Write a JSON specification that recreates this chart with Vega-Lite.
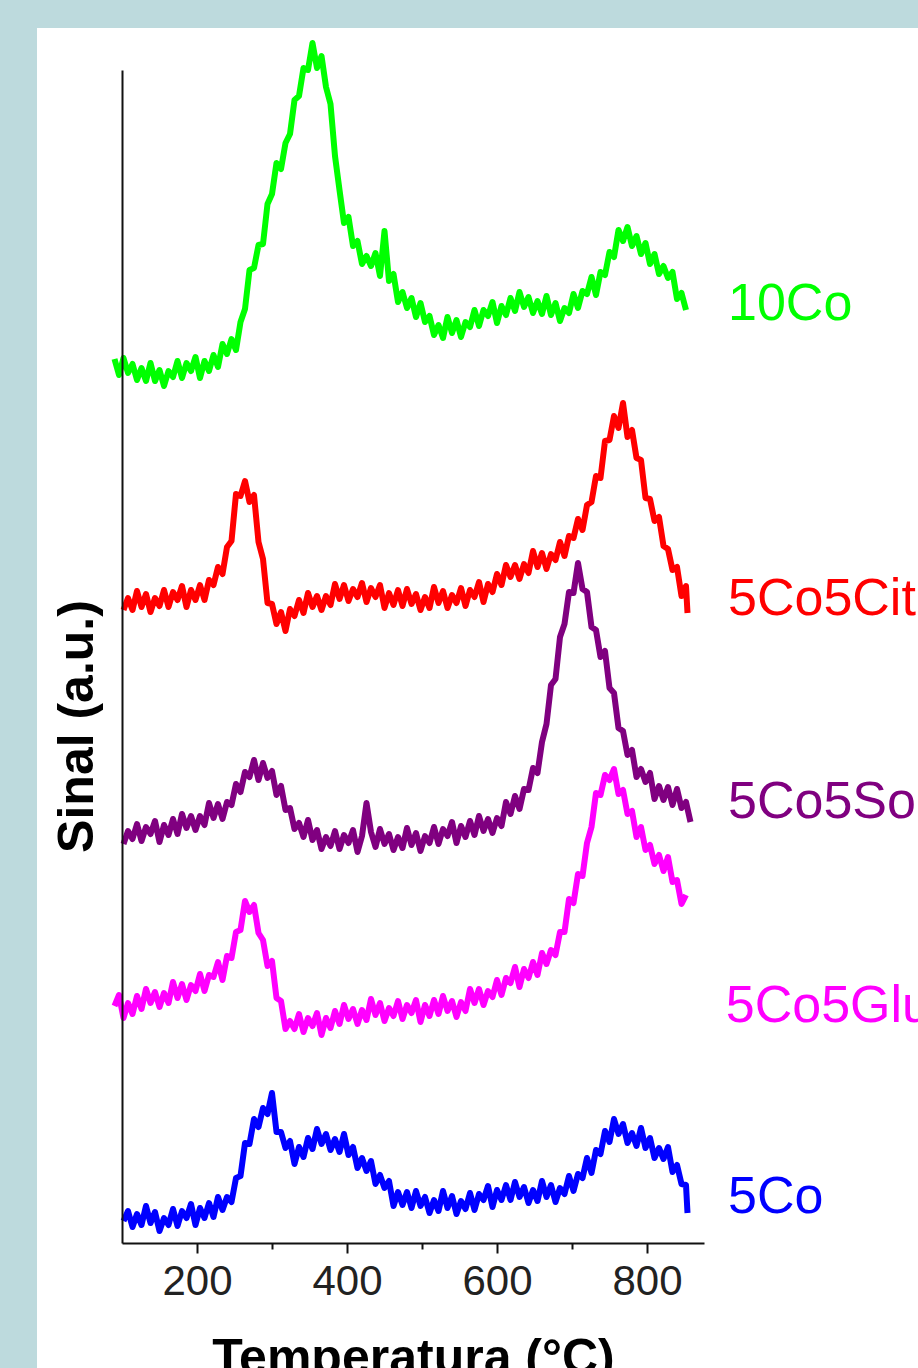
{
"$schema":"https://vega.github.io/schema/vega-lite/v6.json",
"width":881,"height":1340,
"autosize":{"type":"none"},
"padding":{"left":37,"top":28,"right":0,"bottom":0},
"background":"#bddadd",
"config":{"view":{"fill":"white","stroke":null},"font":"Liberation Sans"},
"layer":[
{"data":{"values":[
{"s":"10Co","t":90,"v":884},{"s":"10Co","t":96,"v":868},{"s":"10Co","t":102,"v":885},{"s":"10Co","t":108,"v":870},{"s":"10Co","t":114,"v":879},{"s":"10Co","t":120,"v":863},{"s":"10Co","t":126,"v":875},{"s":"10Co","t":132,"v":862},{"s":"10Co","t":138,"v":880},{"s":"10Co","t":144,"v":862},{"s":"10Co","t":150,"v":873},{"s":"10Co","t":156,"v":857},{"s":"10Co","t":162,"v":872},{"s":"10Co","t":168,"v":866},{"s":"10Co","t":174,"v":882},{"s":"10Co","t":180,"v":865},{"s":"10Co","t":186,"v":880},{"s":"10Co","t":192,"v":872},{"s":"10Co","t":198,"v":886},{"s":"10Co","t":204,"v":865},{"s":"10Co","t":210,"v":882},{"s":"10Co","t":216,"v":872},{"s":"10Co","t":222,"v":888},{"s":"10Co","t":228,"v":876},{"s":"10Co","t":234,"v":899},{"s":"10Co","t":240,"v":889},{"s":"10Co","t":246,"v":904},{"s":"10Co","t":252,"v":893},{"s":"10Co","t":258,"v":921},{"s":"10Co","t":264,"v":934},{"s":"10Co","t":270,"v":973},{"s":"10Co","t":276,"v":975},{"s":"10Co","t":282,"v":998},{"s":"10Co","t":288,"v":999},{"s":"10Co","t":294,"v":1039},{"s":"10Co","t":300,"v":1049},{"s":"10Co","t":306,"v":1080},{"s":"10Co","t":312,"v":1074},{"s":"10Co","t":318,"v":1100},{"s":"10Co","t":324,"v":1109},{"s":"10Co","t":330,"v":1143},{"s":"10Co","t":336,"v":1147},{"s":"10Co","t":342,"v":1175},{"s":"10Co","t":348,"v":1173},{"s":"10Co","t":354,"v":1200},{"s":"10Co","t":360,"v":1175},{"s":"10Co","t":366,"v":1187},{"s":"10Co","t":372,"v":1156},{"s":"10Co","t":378,"v":1139},{"s":"10Co","t":384,"v":1087},{"s":"10Co","t":390,"v":1053},{"s":"10Co","t":396,"v":1020},{"s":"10Co","t":402,"v":1026},{"s":"10Co","t":408,"v":997},{"s":"10Co","t":414,"v":1002},{"s":"10Co","t":420,"v":979},{"s":"10Co","t":426,"v":987},{"s":"10Co","t":432,"v":977},{"s":"10Co","t":438,"v":990},{"s":"10Co","t":444,"v":967},{"s":"10Co","t":450,"v":1012},{"s":"10Co","t":456,"v":962},{"s":"10Co","t":462,"v":969},{"s":"10Co","t":468,"v":941},{"s":"10Co","t":474,"v":951},{"s":"10Co","t":480,"v":935},{"s":"10Co","t":486,"v":945},{"s":"10Co","t":492,"v":926},{"s":"10Co","t":498,"v":940},{"s":"10Co","t":504,"v":921},{"s":"10Co","t":510,"v":927},{"s":"10Co","t":516,"v":908},{"s":"10Co","t":522,"v":918},{"s":"10Co","t":528,"v":905},{"s":"10Co","t":534,"v":926},{"s":"10Co","t":540,"v":910},{"s":"10Co","t":546,"v":923},{"s":"10Co","t":552,"v":906},{"s":"10Co","t":558,"v":921},{"s":"10Co","t":564,"v":916},{"s":"10Co","t":570,"v":933},{"s":"10Co","t":576,"v":917},{"s":"10Co","t":582,"v":933},{"s":"10Co","t":588,"v":927},{"s":"10Co","t":594,"v":941},{"s":"10Co","t":600,"v":920},{"s":"10Co","t":606,"v":937},{"s":"10Co","t":612,"v":928},{"s":"10Co","t":618,"v":945},{"s":"10Co","t":624,"v":932},{"s":"10Co","t":630,"v":951},{"s":"10Co","t":636,"v":936},{"s":"10Co","t":642,"v":946},{"s":"10Co","t":648,"v":930},{"s":"10Co","t":654,"v":942},{"s":"10Co","t":660,"v":929},{"s":"10Co","t":666,"v":947},{"s":"10Co","t":672,"v":928},{"s":"10Co","t":678,"v":940},{"s":"10Co","t":684,"v":922},{"s":"10Co","t":690,"v":935},{"s":"10Co","t":696,"v":930},{"s":"10Co","t":702,"v":949},{"s":"10Co","t":708,"v":935},{"s":"10Co","t":714,"v":952},{"s":"10Co","t":720,"v":949},{"s":"10Co","t":726,"v":966},{"s":"10Co","t":732,"v":948},{"s":"10Co","t":738,"v":971},{"s":"10Co","t":744,"v":968},{"s":"10Co","t":750,"v":991},{"s":"10Co","t":756,"v":986},{"s":"10Co","t":762,"v":1013},{"s":"10Co","t":768,"v":1002},{"s":"10Co","t":774,"v":1016},{"s":"10Co","t":780,"v":997},{"s":"10Co","t":786,"v":1007},{"s":"10Co","t":792,"v":989},{"s":"10Co","t":798,"v":1000},{"s":"10Co","t":804,"v":979},{"s":"10Co","t":810,"v":989},{"s":"10Co","t":816,"v":969},{"s":"10Co","t":822,"v":977},{"s":"10Co","t":828,"v":965},{"s":"10Co","t":834,"v":971},{"s":"10Co","t":840,"v":944},{"s":"10Co","t":846,"v":950},{"s":"10Co","t":852,"v":933},
{"s":"5Co5Cit","t":102,"v":633},{"s":"5Co5Cit","t":108,"v":645},{"s":"5Co5Cit","t":114,"v":633},{"s":"5Co5Cit","t":120,"v":652},{"s":"5Co5Cit","t":126,"v":636},{"s":"5Co5Cit","t":132,"v":649},{"s":"5Co5Cit","t":138,"v":631},{"s":"5Co5Cit","t":144,"v":645},{"s":"5Co5Cit","t":150,"v":637},{"s":"5Co5Cit","t":156,"v":653},{"s":"5Co5Cit","t":162,"v":636},{"s":"5Co5Cit","t":168,"v":651},{"s":"5Co5Cit","t":174,"v":643},{"s":"5Co5Cit","t":180,"v":657},{"s":"5Co5Cit","t":186,"v":636},{"s":"5Co5Cit","t":192,"v":653},{"s":"5Co5Cit","t":198,"v":643},{"s":"5Co5Cit","t":204,"v":658},{"s":"5Co5Cit","t":210,"v":643},{"s":"5Co5Cit","t":216,"v":663},{"s":"5Co5Cit","t":222,"v":658},{"s":"5Co5Cit","t":228,"v":676},{"s":"5Co5Cit","t":234,"v":669},{"s":"5Co5Cit","t":240,"v":696},{"s":"5Co5Cit","t":246,"v":702},{"s":"5Co5Cit","t":252,"v":749},{"s":"5Co5Cit","t":258,"v":747},{"s":"5Co5Cit","t":264,"v":762},{"s":"5Co5Cit","t":270,"v":741},{"s":"5Co5Cit","t":276,"v":748},{"s":"5Co5Cit","t":282,"v":701},{"s":"5Co5Cit","t":288,"v":684},{"s":"5Co5Cit","t":294,"v":640},{"s":"5Co5Cit","t":300,"v":639},{"s":"5Co5Cit","t":306,"v":619},{"s":"5Co5Cit","t":312,"v":631},{"s":"5Co5Cit","t":318,"v":612},{"s":"5Co5Cit","t":324,"v":634},{"s":"5Co5Cit","t":330,"v":627},{"s":"5Co5Cit","t":336,"v":643},{"s":"5Co5Cit","t":342,"v":630},{"s":"5Co5Cit","t":348,"v":650},{"s":"5Co5Cit","t":354,"v":636},{"s":"5Co5Cit","t":360,"v":647},{"s":"5Co5Cit","t":366,"v":633},{"s":"5Co5Cit","t":372,"v":647},{"s":"5Co5Cit","t":378,"v":638},{"s":"5Co5Cit","t":384,"v":659},{"s":"5Co5Cit","t":390,"v":644},{"s":"5Co5Cit","t":396,"v":658},{"s":"5Co5Cit","t":402,"v":642},{"s":"5Co5Cit","t":408,"v":654},{"s":"5Co5Cit","t":414,"v":646},{"s":"5Co5Cit","t":420,"v":660},{"s":"5Co5Cit","t":426,"v":641},{"s":"5Co5Cit","t":432,"v":655},{"s":"5Co5Cit","t":438,"v":646},{"s":"5Co5Cit","t":444,"v":658},{"s":"5Co5Cit","t":450,"v":635},{"s":"5Co5Cit","t":456,"v":650},{"s":"5Co5Cit","t":462,"v":638},{"s":"5Co5Cit","t":468,"v":653},{"s":"5Co5Cit","t":474,"v":637},{"s":"5Co5Cit","t":480,"v":654},{"s":"5Co5Cit","t":486,"v":639},{"s":"5Co5Cit","t":492,"v":649},{"s":"5Co5Cit","t":498,"v":633},{"s":"5Co5Cit","t":504,"v":646},{"s":"5Co5Cit","t":510,"v":635},{"s":"5Co5Cit","t":516,"v":656},{"s":"5Co5Cit","t":522,"v":640},{"s":"5Co5Cit","t":528,"v":652},{"s":"5Co5Cit","t":534,"v":635},{"s":"5Co5Cit","t":540,"v":648},{"s":"5Co5Cit","t":546,"v":640},{"s":"5Co5Cit","t":552,"v":655},{"s":"5Co5Cit","t":558,"v":637},{"s":"5Co5Cit","t":564,"v":653},{"s":"5Co5Cit","t":570,"v":646},{"s":"5Co5Cit","t":576,"v":661},{"s":"5Co5Cit","t":582,"v":641},{"s":"5Co5Cit","t":588,"v":659},{"s":"5Co5Cit","t":594,"v":651},{"s":"5Co5Cit","t":600,"v":669},{"s":"5Co5Cit","t":606,"v":658},{"s":"5Co5Cit","t":612,"v":678},{"s":"5Co5Cit","t":618,"v":666},{"s":"5Co5Cit","t":624,"v":678},{"s":"5Co5Cit","t":630,"v":664},{"s":"5Co5Cit","t":636,"v":679},{"s":"5Co5Cit","t":642,"v":670},{"s":"5Co5Cit","t":648,"v":692},{"s":"5Co5Cit","t":654,"v":676},{"s":"5Co5Cit","t":660,"v":690},{"s":"5Co5Cit","t":666,"v":674},{"s":"5Co5Cit","t":672,"v":689},{"s":"5Co5Cit","t":678,"v":683},{"s":"5Co5Cit","t":684,"v":701},{"s":"5Co5Cit","t":690,"v":687},{"s":"5Co5Cit","t":696,"v":707},{"s":"5Co5Cit","t":702,"v":705},{"s":"5Co5Cit","t":708,"v":724},{"s":"5Co5Cit","t":714,"v":713},{"s":"5Co5Cit","t":720,"v":738},{"s":"5Co5Cit","t":726,"v":741},{"s":"5Co5Cit","t":732,"v":767},{"s":"5Co5Cit","t":738,"v":765},{"s":"5Co5Cit","t":744,"v":802},{"s":"5Co5Cit","t":750,"v":803},{"s":"5Co5Cit","t":756,"v":827},{"s":"5Co5Cit","t":762,"v":815},{"s":"5Co5Cit","t":768,"v":840},{"s":"5Co5Cit","t":774,"v":806},{"s":"5Co5Cit","t":780,"v":813},{"s":"5Co5Cit","t":786,"v":785},{"s":"5Co5Cit","t":792,"v":783},{"s":"5Co5Cit","t":798,"v":745},{"s":"5Co5Cit","t":804,"v":744},{"s":"5Co5Cit","t":810,"v":722},{"s":"5Co5Cit","t":816,"v":726},{"s":"5Co5Cit","t":822,"v":697},{"s":"5Co5Cit","t":828,"v":694},{"s":"5Co5Cit","t":834,"v":673},{"s":"5Co5Cit","t":840,"v":676},{"s":"5Co5Cit","t":846,"v":647},{"s":"5Co5Cit","t":852,"v":657},{"s":"5Co5Cit","t":854,"v":630},
{"s":"5Co5So","t":102,"v":399},{"s":"5Co5So","t":108,"v":412},{"s":"5Co5So","t":114,"v":404},{"s":"5Co5So","t":120,"v":419},{"s":"5Co5So","t":126,"v":402},{"s":"5Co5So","t":132,"v":416},{"s":"5Co5So","t":138,"v":409},{"s":"5Co5So","t":144,"v":422},{"s":"5Co5So","t":150,"v":401},{"s":"5Co5So","t":156,"v":418},{"s":"5Co5So","t":162,"v":408},{"s":"5Co5So","t":168,"v":424},{"s":"5Co5So","t":174,"v":409},{"s":"5Co5So","t":180,"v":429},{"s":"5Co5So","t":186,"v":415},{"s":"5Co5So","t":192,"v":427},{"s":"5Co5So","t":198,"v":413},{"s":"5Co5So","t":204,"v":427},{"s":"5Co5So","t":210,"v":418},{"s":"5Co5So","t":216,"v":440},{"s":"5Co5So","t":222,"v":425},{"s":"5Co5So","t":228,"v":439},{"s":"5Co5So","t":234,"v":424},{"s":"5Co5So","t":240,"v":441},{"s":"5Co5So","t":246,"v":438},{"s":"5Co5So","t":252,"v":459},{"s":"5Co5So","t":258,"v":451},{"s":"5Co5So","t":264,"v":471},{"s":"5Co5So","t":270,"v":466},{"s":"5Co5So","t":276,"v":483},{"s":"5Co5So","t":282,"v":463},{"s":"5Co5So","t":288,"v":480},{"s":"5Co5So","t":294,"v":465},{"s":"5Co5So","t":300,"v":472},{"s":"5Co5So","t":306,"v":448},{"s":"5Co5So","t":312,"v":457},{"s":"5Co5So","t":318,"v":433},{"s":"5Co5So","t":324,"v":435},{"s":"5Co5So","t":330,"v":414},{"s":"5Co5So","t":336,"v":420},{"s":"5Co5So","t":342,"v":406},{"s":"5Co5So","t":348,"v":423},{"s":"5Co5So","t":354,"v":403},{"s":"5Co5So","t":360,"v":413},{"s":"5Co5So","t":366,"v":394},{"s":"5Co5So","t":372,"v":406},{"s":"5Co5So","t":378,"v":397},{"s":"5Co5So","t":384,"v":412},{"s":"5Co5So","t":390,"v":394},{"s":"5Co5So","t":396,"v":408},{"s":"5Co5So","t":402,"v":400},{"s":"5Co5So","t":408,"v":413},{"s":"5Co5So","t":414,"v":391},{"s":"5Co5So","t":420,"v":407},{"s":"5Co5So","t":426,"v":440},{"s":"5Co5So","t":432,"v":411},{"s":"5Co5So","t":438,"v":396},{"s":"5Co5So","t":444,"v":414},{"s":"5Co5So","t":450,"v":399},{"s":"5Co5So","t":456,"v":409},{"s":"5Co5So","t":462,"v":393},{"s":"5Co5So","t":468,"v":406},{"s":"5Co5So","t":474,"v":395},{"s":"5Co5So","t":480,"v":415},{"s":"5Co5So","t":486,"v":398},{"s":"5Co5So","t":492,"v":410},{"s":"5Co5So","t":498,"v":392},{"s":"5Co5So","t":504,"v":407},{"s":"5Co5So","t":510,"v":400},{"s":"5Co5So","t":516,"v":416},{"s":"5Co5So","t":522,"v":399},{"s":"5Co5So","t":528,"v":414},{"s":"5Co5So","t":534,"v":407},{"s":"5Co5So","t":540,"v":421},{"s":"5Co5So","t":546,"v":400},{"s":"5Co5So","t":552,"v":417},{"s":"5Co5So","t":558,"v":406},{"s":"5Co5So","t":564,"v":422},{"s":"5Co5So","t":570,"v":408},{"s":"5Co5So","t":576,"v":427},{"s":"5Co5So","t":582,"v":412},{"s":"5Co5So","t":588,"v":424},{"s":"5Co5So","t":594,"v":410},{"s":"5Co5So","t":600,"v":425},{"s":"5Co5So","t":606,"v":417},{"s":"5Co5So","t":612,"v":441},{"s":"5Co5So","t":618,"v":429},{"s":"5Co5So","t":624,"v":447},{"s":"5Co5So","t":630,"v":434},{"s":"5Co5So","t":636,"v":454},{"s":"5Co5So","t":642,"v":453},{"s":"5Co5So","t":648,"v":475},{"s":"5Co5So","t":654,"v":470},{"s":"5Co5So","t":660,"v":501},{"s":"5Co5So","t":666,"v":519},{"s":"5Co5So","t":672,"v":558},{"s":"5Co5So","t":678,"v":564},{"s":"5Co5So","t":684,"v":606},{"s":"5Co5So","t":690,"v":619},{"s":"5Co5So","t":696,"v":651},{"s":"5Co5So","t":702,"v":650},{"s":"5Co5So","t":708,"v":680},{"s":"5Co5So","t":714,"v":654},{"s":"5Co5So","t":720,"v":651},{"s":"5Co5So","t":726,"v":616},{"s":"5Co5So","t":732,"v":613},{"s":"5Co5So","t":738,"v":586},{"s":"5Co5So","t":744,"v":592},{"s":"5Co5So","t":750,"v":555},{"s":"5Co5So","t":756,"v":550},{"s":"5Co5So","t":762,"v":515},{"s":"5Co5So","t":768,"v":512},{"s":"5Co5So","t":774,"v":488},{"s":"5Co5So","t":780,"v":493},{"s":"5Co5So","t":786,"v":466},{"s":"5Co5So","t":792,"v":474},{"s":"5Co5So","t":798,"v":461},{"s":"5Co5So","t":804,"v":470},{"s":"5Co5So","t":810,"v":444},{"s":"5Co5So","t":816,"v":457},{"s":"5Co5So","t":822,"v":443},{"s":"5Co5So","t":828,"v":456},{"s":"5Co5So","t":834,"v":438},{"s":"5Co5So","t":840,"v":454},{"s":"5Co5So","t":846,"v":435},{"s":"5Co5So","t":852,"v":441},{"s":"5Co5So","t":858,"v":421},
{"s":"5Co5Glu","t":90,"v":237},{"s":"5Co5Glu","t":96,"v":248},{"s":"5Co5Glu","t":102,"v":225},{"s":"5Co5Glu","t":108,"v":240},{"s":"5Co5Glu","t":114,"v":229},{"s":"5Co5Glu","t":120,"v":247},{"s":"5Co5Glu","t":126,"v":234},{"s":"5Co5Glu","t":132,"v":254},{"s":"5Co5Glu","t":138,"v":240},{"s":"5Co5Glu","t":144,"v":251},{"s":"5Co5Glu","t":150,"v":236},{"s":"5Co5Glu","t":156,"v":250},{"s":"5Co5Glu","t":162,"v":240},{"s":"5Co5Glu","t":168,"v":261},{"s":"5Co5Glu","t":174,"v":245},{"s":"5Co5Glu","t":180,"v":259},{"s":"5Co5Glu","t":186,"v":243},{"s":"5Co5Glu","t":192,"v":258},{"s":"5Co5Glu","t":198,"v":252},{"s":"5Co5Glu","t":204,"v":269},{"s":"5Co5Glu","t":210,"v":252},{"s":"5Co5Glu","t":216,"v":268},{"s":"5Co5Glu","t":222,"v":266},{"s":"5Co5Glu","t":228,"v":281},{"s":"5Co5Glu","t":234,"v":263},{"s":"5Co5Glu","t":240,"v":287},{"s":"5Co5Glu","t":246,"v":285},{"s":"5Co5Glu","t":252,"v":311},{"s":"5Co5Glu","t":258,"v":313},{"s":"5Co5Glu","t":264,"v":342},{"s":"5Co5Glu","t":270,"v":331},{"s":"5Co5Glu","t":276,"v":338},{"s":"5Co5Glu","t":282,"v":310},{"s":"5Co5Glu","t":288,"v":303},{"s":"5Co5Glu","t":294,"v":277},{"s":"5Co5Glu","t":300,"v":282},{"s":"5Co5Glu","t":306,"v":245},{"s":"5Co5Glu","t":312,"v":242},{"s":"5Co5Glu","t":318,"v":214},{"s":"5Co5Glu","t":324,"v":222},{"s":"5Co5Glu","t":330,"v":214},{"s":"5Co5Glu","t":336,"v":229},{"s":"5Co5Glu","t":342,"v":211},{"s":"5Co5Glu","t":348,"v":225},{"s":"5Co5Glu","t":354,"v":217},{"s":"5Co5Glu","t":360,"v":230},{"s":"5Co5Glu","t":366,"v":208},{"s":"5Co5Glu","t":372,"v":225},{"s":"5Co5Glu","t":378,"v":215},{"s":"5Co5Glu","t":384,"v":232},{"s":"5Co5Glu","t":390,"v":219},{"s":"5Co5Glu","t":396,"v":238},{"s":"5Co5Glu","t":402,"v":224},{"s":"5Co5Glu","t":408,"v":234},{"s":"5Co5Glu","t":414,"v":219},{"s":"5Co5Glu","t":420,"v":233},{"s":"5Co5Glu","t":426,"v":223},{"s":"5Co5Glu","t":432,"v":244},{"s":"5Co5Glu","t":438,"v":228},{"s":"5Co5Glu","t":444,"v":240},{"s":"5Co5Glu","t":450,"v":222},{"s":"5Co5Glu","t":456,"v":235},{"s":"5Co5Glu","t":462,"v":227},{"s":"5Co5Glu","t":468,"v":242},{"s":"5Co5Glu","t":474,"v":224},{"s":"5Co5Glu","t":480,"v":238},{"s":"5Co5Glu","t":486,"v":230},{"s":"5Co5Glu","t":492,"v":243},{"s":"5Co5Glu","t":498,"v":221},{"s":"5Co5Glu","t":504,"v":238},{"s":"5Co5Glu","t":510,"v":227},{"s":"5Co5Glu","t":516,"v":243},{"s":"5Co5Glu","t":522,"v":229},{"s":"5Co5Glu","t":528,"v":247},{"s":"5Co5Glu","t":534,"v":232},{"s":"5Co5Glu","t":540,"v":242},{"s":"5Co5Glu","t":546,"v":226},{"s":"5Co5Glu","t":552,"v":241},{"s":"5Co5Glu","t":558,"v":232},{"s":"5Co5Glu","t":564,"v":254},{"s":"5Co5Glu","t":570,"v":240},{"s":"5Co5Glu","t":576,"v":254},{"s":"5Co5Glu","t":582,"v":238},{"s":"5Co5Glu","t":588,"v":252},{"s":"5Co5Glu","t":594,"v":246},{"s":"5Co5Glu","t":600,"v":263},{"s":"5Co5Glu","t":606,"v":248},{"s":"5Co5Glu","t":612,"v":265},{"s":"5Co5Glu","t":618,"v":260},{"s":"5Co5Glu","t":624,"v":276},{"s":"5Co5Glu","t":630,"v":256},{"s":"5Co5Glu","t":636,"v":274},{"s":"5Co5Glu","t":642,"v":265},{"s":"5Co5Glu","t":648,"v":281},{"s":"5Co5Glu","t":654,"v":268},{"s":"5Co5Glu","t":660,"v":290},{"s":"5Co5Glu","t":666,"v":279},{"s":"5Co5Glu","t":672,"v":293},{"s":"5Co5Glu","t":678,"v":288},{"s":"5Co5Glu","t":684,"v":311},{"s":"5Co5Glu","t":690,"v":311},{"s":"5Co5Glu","t":696,"v":344},{"s":"5Co5Glu","t":702,"v":340},{"s":"5Co5Glu","t":708,"v":369},{"s":"5Co5Glu","t":714,"v":367},{"s":"5Co5Glu","t":720,"v":400},{"s":"5Co5Glu","t":726,"v":416},{"s":"5Co5Glu","t":732,"v":450},{"s":"5Co5Glu","t":738,"v":448},{"s":"5Co5Glu","t":744,"v":468},{"s":"5Co5Glu","t":750,"v":463},{"s":"5Co5Glu","t":756,"v":474},{"s":"5Co5Glu","t":762,"v":449},{"s":"5Co5Glu","t":768,"v":453},{"s":"5Co5Glu","t":774,"v":429},{"s":"5Co5Glu","t":780,"v":432},{"s":"5Co5Glu","t":786,"v":406},{"s":"5Co5Glu","t":792,"v":416},{"s":"5Co5Glu","t":798,"v":393},{"s":"5Co5Glu","t":804,"v":398},{"s":"5Co5Glu","t":810,"v":379},{"s":"5Co5Glu","t":816,"v":388},{"s":"5Co5Glu","t":822,"v":372},{"s":"5Co5Glu","t":828,"v":386},{"s":"5Co5Glu","t":834,"v":361},{"s":"5Co5Glu","t":840,"v":363},{"s":"5Co5Glu","t":846,"v":339},{"s":"5Co5Glu","t":852,"v":348},
{"s":"5Co","t":102,"v":22},{"s":"5Co","t":108,"v":32},{"s":"5Co","t":114,"v":16},{"s":"5Co","t":120,"v":29},{"s":"5Co","t":126,"v":18},{"s":"5Co","t":132,"v":37},{"s":"5Co","t":138,"v":20},{"s":"5Co","t":144,"v":31},{"s":"5Co","t":150,"v":12},{"s":"5Co","t":156,"v":25},{"s":"5Co","t":162,"v":18},{"s":"5Co","t":168,"v":34},{"s":"5Co","t":174,"v":17},{"s":"5Co","t":180,"v":32},{"s":"5Co","t":186,"v":25},{"s":"5Co","t":192,"v":39},{"s":"5Co","t":198,"v":18},{"s":"5Co","t":204,"v":35},{"s":"5Co","t":210,"v":25},{"s":"5Co","t":216,"v":40},{"s":"5Co","t":222,"v":26},{"s":"5Co","t":228,"v":46},{"s":"5Co","t":234,"v":33},{"s":"5Co","t":240,"v":46},{"s":"5Co","t":246,"v":41},{"s":"5Co","t":252,"v":65},{"s":"5Co","t":258,"v":67},{"s":"5Co","t":264,"v":100},{"s":"5Co","t":270,"v":99},{"s":"5Co","t":276,"v":124},{"s":"5Co","t":282,"v":116},{"s":"5Co","t":288,"v":135},{"s":"5Co","t":294,"v":129},{"s":"5Co","t":300,"v":150},{"s":"5Co","t":306,"v":111},{"s":"5Co","t":312,"v":111},{"s":"5Co","t":318,"v":95},{"s":"5Co","t":324,"v":102},{"s":"5Co","t":330,"v":79},{"s":"5Co","t":336,"v":96},{"s":"5Co","t":342,"v":86},{"s":"5Co","t":348,"v":105},{"s":"5Co","t":354,"v":94},{"s":"5Co","t":360,"v":114},{"s":"5Co","t":366,"v":99},{"s":"5Co","t":372,"v":109},{"s":"5Co","t":378,"v":93},{"s":"5Co","t":384,"v":104},{"s":"5Co","t":390,"v":91},{"s":"5Co","t":396,"v":109},{"s":"5Co","t":402,"v":88},{"s":"5Co","t":408,"v":96},{"s":"5Co","t":414,"v":75},{"s":"5Co","t":420,"v":85},{"s":"5Co","t":426,"v":72},{"s":"5Co","t":432,"v":82},{"s":"5Co","t":438,"v":59},{"s":"5Co","t":444,"v":68},{"s":"5Co","t":450,"v":55},{"s":"5Co","t":456,"v":62},{"s":"5Co","t":462,"v":37},{"s":"5Co","t":468,"v":51},{"s":"5Co","t":474,"v":38},{"s":"5Co","t":480,"v":51},{"s":"5Co","t":486,"v":35},{"s":"5Co","t":492,"v":52},{"s":"5Co","t":498,"v":37},{"s":"5Co","t":504,"v":46},{"s":"5Co","t":510,"v":30},{"s":"5Co","t":516,"v":43},{"s":"5Co","t":522,"v":32},{"s":"5Co","t":528,"v":52},{"s":"5Co","t":534,"v":35},{"s":"5Co","t":540,"v":47},{"s":"5Co","t":546,"v":29},{"s":"5Co","t":552,"v":42},{"s":"5Co","t":558,"v":34},{"s":"5Co","t":564,"v":50},{"s":"5Co","t":570,"v":33},{"s":"5Co","t":576,"v":49},{"s":"5Co","t":582,"v":43},{"s":"5Co","t":588,"v":57},{"s":"5Co","t":594,"v":36},{"s":"5Co","t":600,"v":53},{"s":"5Co","t":606,"v":43},{"s":"5Co","t":612,"v":58},{"s":"5Co","t":618,"v":43},{"s":"5Co","t":624,"v":61},{"s":"5Co","t":630,"v":46},{"s":"5Co","t":636,"v":56},{"s":"5Co","t":642,"v":40},{"s":"5Co","t":648,"v":53},{"s":"5Co","t":654,"v":42},{"s":"5Co","t":660,"v":62},{"s":"5Co","t":666,"v":46},{"s":"5Co","t":672,"v":58},{"s":"5Co","t":678,"v":41},{"s":"5Co","t":684,"v":55},{"s":"5Co","t":690,"v":49},{"s":"5Co","t":696,"v":67},{"s":"5Co","t":702,"v":52},{"s":"5Co","t":708,"v":69},{"s":"5Co","t":714,"v":65},{"s":"5Co","t":720,"v":85},{"s":"5Co","t":726,"v":70},{"s":"5Co","t":732,"v":93},{"s":"5Co","t":738,"v":89},{"s":"5Co","t":744,"v":112},{"s":"5Co","t":750,"v":101},{"s":"5Co","t":756,"v":124},{"s":"5Co","t":762,"v":109},{"s":"5Co","t":768,"v":119},{"s":"5Co","t":774,"v":100},{"s":"5Co","t":780,"v":110},{"s":"5Co","t":786,"v":97},{"s":"5Co","t":792,"v":115},{"s":"5Co","t":798,"v":95},{"s":"5Co","t":804,"v":105},{"s":"5Co","t":810,"v":85},{"s":"5Co","t":816,"v":95},{"s":"5Co","t":822,"v":84},{"s":"5Co","t":828,"v":96},{"s":"5Co","t":834,"v":71},{"s":"5Co","t":840,"v":78},{"s":"5Co","t":846,"v":59},{"s":"5Co","t":852,"v":58},{"s":"5Co","t":854,"v":30}
]},
"mark":{"type":"line","strokeWidth":6,"strokeJoin":"round","clip":false},
"encoding":{
"x":{"field":"t","type":"quantitative","scale":{"domain":[100,876],"range":[85,667],"nice":false,"zero":false},
"axis":{"orient":"bottom","offset":-125,"values":[200,400,600,800],"tickSize":10,"tickWidth":2,"tickColor":"#111111","domainColor":"#111111","domainWidth":2,"labelFontSize":42,"labelColor":"#222222","labelPadding":8,"labelFont":"Liberation Sans","labelFlush":false,"labelOverlap":false,"title":"Temperatura (°C)","titleFont":"Liberation Sans","titleFontSize":50,"titleFontWeight":"bold","titleY":130,"titleBaseline":"alphabetic","titleColor":"#000000","grid":false,"zindex":1}},
"y":{"field":"v","type":"quantitative","scale":{"domain":[0,1173],"range":[1215,42],"nice":false,"zero":false},
"axis":{"orient":"left","offset":-85,"ticks":false,"labels":false,"domainColor":"#111111","domainWidth":2,"title":"Sinal (a.u.)","titleFont":"Liberation Sans","titleFontSize":50,"titleFontWeight":"bold","titleAngle":-90,"titleX":-30,"titleY":698,"titleAlign":"center","titleBaseline":"alphabetic","titleColor":"#000000","grid":false,"zindex":1}},
"color":{"field":"s","type":"nominal","scale":{"domain":["10Co","5Co5Cit","5Co5So","5Co5Glu","5Co"],"range":["#00ff00","#ff0000","#800080","#ff00ff","#0000ff"]},"legend":null}
}},
{"data":{"values":[
{"s":"10Co","t":908,"v":923},{"s":"5Co5Cit","t":908,"v":628},{"s":"5Co5So","t":908,"v":425},{"s":"5Co5Glu","t":905,"v":221},{"s":"5Co","t":908,"v":30}
]},
"mark":{"type":"text","align":"left","baseline":"alphabetic","fontSize":52,"font":"Liberation Sans"},
"encoding":{
"x":{"field":"t","type":"quantitative","axis":{"orient":"bottom","offset":-125,"values":[300,500,700],"tickSize":6,"tickWidth":2,"tickColor":"#111111","labels":false,"domain":false,"title":null,"grid":false,"zindex":1}},
"y":{"field":"v","type":"quantitative","axis":{"orient":"left","offset":-85,"ticks":false,"labels":false,"domainColor":"#111111","domainWidth":2,"title":"Sinal (a.u.)","titleFont":"Liberation Sans","titleFontSize":50,"titleFontWeight":"bold","titleAngle":-90,"titleX":-30,"titleY":698,"titleAlign":"center","titleBaseline":"alphabetic","titleColor":"#000000","grid":false,"zindex":1}},
"text":{"field":"s"},
"color":{"field":"s","type":"nominal","legend":null}
}}
],
"resolve":{"axis":{"x":"independent"}}
}
